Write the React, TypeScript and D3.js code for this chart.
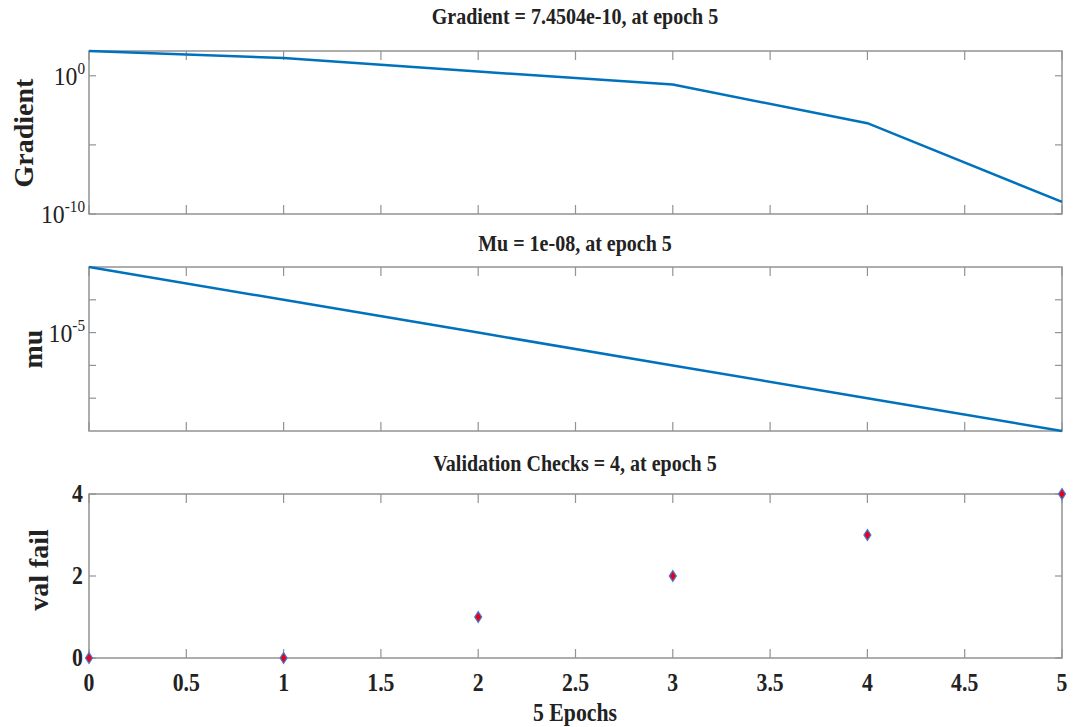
import React, { useRef, useEffect } from 'react'
import * as d3 from 'd3'

// training record, epochs 0..5
const epochs = [0, 1, 2, 3, 4, 5]
const gradient = [62, 19, 2, 0.23, 3.7e-4, 7.4504e-10]
const mu = [1e-3, 1e-4, 1e-5, 1e-6, 1e-7, 1e-8]
const valFail = [0, 0, 1, 2, 3, 4]

const xTicks = [0, 0.5, 1, 1.5, 2, 2.5, 3, 3.5, 4, 4.5, 5]
const gradTicks = [1e-10, 1e-5, 1e0]
const gradLabels = ['-10', '', '0']
const muTicks = [1e-7, 1e-6, 1e-5, 1e-4]
const muLabels = ['', '', '-5', '']
const valTicks = [0, 2, 4]

const titles = [
    'Gradient = 7.4504e-10, at epoch 5',
    'Mu = 1e-08, at epoch 5',
    'Validation Checks = 4, at epoch 5',
]

const App = () => {
    const element = useRef(null)

    useEffect(() => {
        const width = 1087
        const height = 727
        const left = 89
        const right = 1062
        const axisColor = '#939393'
        const blue = '#0072BD'
        const font = '"Liberation Serif", "Times New Roman", serif'
        const sx = 0.87

        const root = d3.select(element.current)
            .append('svg')
            .attr('width', width)
            .attr('height', height)
            .style('display', 'block')
            .style('background', '#fff')

        const x = d3.scaleLinear().domain([0, 5]).range([left, right])

        // squeezed bold text like the reference
        const label = (g, tx, ty, str, size, anchor = 'middle', rot = 0, scale = sx) => {
            return g.append('text')
                .attr('transform', `translate(${tx},${ty}) rotate(${rot}) scale(${scale},1)`)
                .attr('text-anchor', anchor)
                .attr('font-family', font)
                .attr('font-weight', 'bold')
                .attr('font-size', size)
                .attr('fill', '#222')
                .text(str)
        }

        const panels = [
            { top: 51, bottom: 214, title: 24, ylab: 'Gradient', ylx: 33, yly: 133, scale: d3.scaleLog().domain([1e-10, 62]) },
            { top: 267, bottom: 431, title: 251, ylab: 'mu', ylx: 42, yly: 349, scale: d3.scaleLog().domain([1e-8, 1e-3]) },
            { top: 494, bottom: 658, title: 471, ylab: 'val fail', ylx: 48, yly: 570, scale: d3.scaleLinear().domain([0, 4]) },
        ]

        panels.forEach((p, i) => {
            const y = p.scale.range([p.bottom, p.top])
            const g = root.append('g')

            // box
            g.append('rect')
                .attr('x', left).attr('y', p.top)
                .attr('width', right - left).attr('height', p.bottom - p.top)
                .attr('fill', 'none')
                .attr('stroke', axisColor)
                .attr('stroke-width', 1.5)

            // x ticks, top and bottom, pointing in
            xTicks.forEach(t => {
                g.append('line')
                    .attr('x1', x(t)).attr('x2', x(t))
                    .attr('y1', p.bottom).attr('y2', p.bottom - 9)
                    .attr('stroke', axisColor).attr('stroke-width', 1.2)
                g.append('line')
                    .attr('x1', x(t)).attr('x2', x(t))
                    .attr('y1', p.top).attr('y2', p.top + 9)
                    .attr('stroke', axisColor).attr('stroke-width', 1.2)
            })

            const yt = i === 0 ? gradTicks : i === 1 ? muTicks : valTicks
            yt.forEach((t, k) => {
                g.append('line')
                    .attr('x1', left).attr('x2', left + 7)
                    .attr('y1', y(t)).attr('y2', y(t))
                    .attr('stroke', axisColor).attr('stroke-width', 1.2)
                g.append('line')
                    .attr('x1', right).attr('x2', right - 7)
                    .attr('y1', y(t)).attr('y2', y(t))
                    .attr('stroke', axisColor).attr('stroke-width', 1.2)

                if (i === 2) {
                    label(g, left - 6, y(t) + 8, String(t), 25, 'end')
                } else {
                    const sup = i === 0 ? gradLabels[k] : muLabels[k]
                    if (sup !== '') {
                        const tx = g.append('text')
                            .attr('transform', `translate(${left - 4},${y(t) + 9}) scale(0.95,1)`)
                            .attr('text-anchor', 'end')
                            .attr('font-family', font)
                            .attr('font-size', 25)
                            .attr('fill', '#222')
                        tx.append('tspan').text('10')
                        tx.append('tspan')
                            .attr('font-size', 16)
                            .attr('dy', -11)
                            .text(sup)
                    }
                }
            })

            // title and y label
            label(g, 575, p.title, titles[i], 23)
            label(g, p.ylx, p.yly, p.ylab, 28, 'middle', -90, 1)

            if (i < 2) {
                const vals = i === 0 ? gradient : mu
                const line = d3.line()
                    .x((d, k) => x(epochs[k]))
                    .y(d => y(d))
                g.append('path')
                    .attr('d', line(vals))
                    .attr('fill', 'none')
                    .attr('stroke', blue)
                    .attr('stroke-width', 2.5)
            } else {
                g.selectAll('.pt')
                    .data(valFail)
                    .enter()
                    .append('path')
                    .attr('d', 'M0,-5.5L3.5,0L0,5.5L-3.5,0Z')
                    .attr('transform', (d, k) => `translate(${x(epochs[k])},${y(d)})`)
                    .attr('fill', '#e8001c')
                    .attr('stroke', '#3d7fd0')
                    .attr('stroke-width', 1.2)

                xTicks.forEach(t => {
                    label(g, x(t), p.bottom + 33, String(t), 25)
                })
                label(g, 575, 721, '5 Epochs', 25)
            }
        })

        return () => {
            if (element.current) element.current.innerHTML = ''
        }
    }, [])

    return (
        <div ref={element} style={{ position: 'absolute', left: 0, top: 0 }}></div>
    )
}

export default App
